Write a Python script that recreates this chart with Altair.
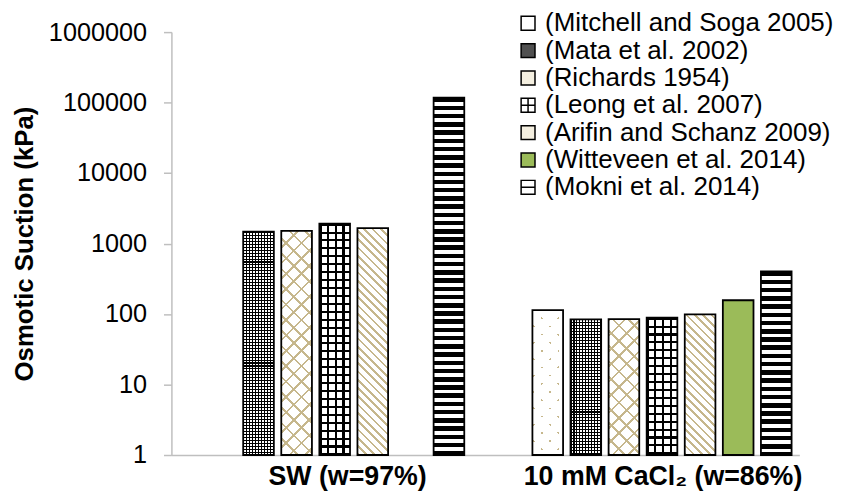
import json
import math
import altair as alt
import pandas as pd

# ---------------- data ----------------
groups = ["SW (w=97%)", "10 mM CaCl₂ (w=86%)"]
series = [
    "(Mitchell and Soga 2005)",
    "(Mata et al. 2002)",
    "(Richards 1954)",
    "(Leong et al. 2007)",
    "(Arifin and Schanz 2009)",
    "(Witteveen et al. 2014)",
    "(Mokni et al. 2014)",
]
sw_values = [None, 1470, 1510, 1920, 1650, None, 118000]
cacl2_values = [114, 84, 85, 89, 99, 157, 402]
y_ticks = [1, 10, 100, 1000, 10000, 100000, 1000000]

rows = []
for g, vals in zip(groups, [sw_values, cacl2_values]):
    for s, v in zip(series, vals):
        if v is not None:
            rows.append({"group": g, "series": s, "value": v})
df = pd.DataFrame(rows)

# ---------------- layout / style ----------------
FONT = "Liberation Sans"
W_PLOT, H_PLOT = 634, 427
PI_G, PO_G, ALIGN_G = 0.2082, 0.0633, 0.813
PI_S = 0.195
TAN = "#c6b78c"
CLEAR = "rgba(255,255,255,0)"

group_step = W_PLOT / (2 - PI_G + 2 * PO_G)
group_band = group_step * (1 - PI_G)
ser_step = group_band / (7 - PI_S)
BAR_W = ser_step * (1 - PI_S)
PX_DEC = H_PLOT / 6.0

base_colors = ["#ffffff", "#ffffff", "#ffffff", "#ffffff", "#ffffff", "#9bbb59", "#ffffff"]
legend_colors = ["#ffffff", "#505050", "#f4efe0", "#ffffff", "#f4efe0", "#9bbb59", "#ffffff"]
SQ = "M-1,-1H1V1H-1Z"
legend_shapes = [SQ, SQ, SQ, SQ + "M0,-1V1M-1,0H1", SQ, SQ, SQ + "M-1,0H1"]

# (kind, period px, on-fraction, on colour, off colour)
patterns = {
    "(Mitchell and Soga 2005)": [("d1", 11.7, 0.15, TAN, CLEAR), ("d2", 11.7, 0.85, "#ffffff", CLEAR)],
    "(Mata et al. 2002)": [("v", 3.0, 0.35, "black", CLEAR), ("h", 3.0, 0.35, "black", CLEAR)],
    "(Richards 1954)": [("d1", 11.0, 0.17, TAN, CLEAR), ("d2", 11.0, 0.17, TAN, CLEAR)],
    "(Leong et al. 2007)": [("v", 7.75, 0.28, "black", CLEAR), ("h", 8.0, 0.26, "black", CLEAR)],
    "(Arifin and Schanz 2009)": [("d2", 5.9, 0.33, TAN, CLEAR)],
    "(Mokni et al. 2014)": [("h", 8.3, 0.55, "black", CLEAR)],
}


def make_stops(n, frac, on, off):
    st = []
    k = 0
    while True:
        a = k / n
        if a >= 1:
            break
        b = min(a + frac / n, 1.0)
        a = round(a, 5)
        b = round(b, 5)
        st += [
            alt.GradientStop(offset=a, color=off),
            alt.GradientStop(offset=a, color=on),
            alt.GradientStop(offset=b, color=on),
            alt.GradientStop(offset=b, color=off),
        ]
        k += 1
    return st


def make_gradient(kind, period, frac, on, off, w, h):
    if kind == "v":
        n = w / period
        return alt.LinearGradient(gradient="linear", x1=0, y1=0, x2=1, y2=0,
                                  stops=make_stops(n, frac, on, off))
    if kind == "h":
        n = h / period
        return alt.LinearGradient(gradient="linear", x1=0, y1=0, x2=0, y2=1,
                                  stops=make_stops(n, frac, on, off))
    lam = (w + h) / (w * w + h * h)
    n = (w + h) / (period * math.sqrt(2))
    if kind == "d1":
        return alt.LinearGradient(gradient="linear", x1=0, y1=0, x2=lam * w, y2=lam * h,
                                  stops=make_stops(n, frac, on, off))
    return alt.LinearGradient(gradient="linear", x1=0, y1=1, x2=lam * w, y2=1 - lam * h,
                              stops=make_stops(n, frac, on, off))


x_enc = alt.X(
    "group:N",
    scale=alt.Scale(domain=groups, paddingInner=PI_G, paddingOuter=PO_G, align=ALIGN_G),
    axis=alt.Axis(
        title=None, labelAngle=0, ticks=False, labelPadding=9,
        labelFont=FONT, labelFontSize=27, labelFontWeight="bold", labelColor="black",
        domainColor="#bfbfbf", domainWidth=1.5, labelLimit=400,
        labelOffset={"condition": {"test": "datum.value == 'SW (w=97%)'", "value": 13}, "value": 1},
    ),
)
xo_enc = alt.XOffset("series:N", scale=alt.Scale(domain=series, paddingInner=PI_S, paddingOuter=0))
y_scale = alt.Scale(type="log", domain=[1, 1000000])
y_enc = alt.Y(
    "value:Q",
    scale=y_scale,
    title="Osmotic Suction (kPa)",
    axis=alt.Axis(
        values=y_ticks, format="d", grid=False,
        labelFont=FONT, labelFontSize=25.5, labelColor="black", labelPadding=17,
        tickSize=8, tickColor="#bfbfbf", tickWidth=1.5,
        domainColor="#bfbfbf", domainWidth=1.5,
        titleFont=FONT, titleFontSize=26, titleFontWeight="bold", titleColor="black",
        titlePadding=11,
    ),
)
y2_enc = alt.Y2(datum=1)

base = alt.Chart(df)

legend_layer = base.transform_calculate(mid="sqrt(datum.value)").mark_point(
    filled=False, size=16, opacity=1, stroke="black", strokeWidth=1.5
).encode(
    x=x_enc, xOffset=xo_enc,
    y=alt.Y("mid:Q", scale=y_scale, title="Osmotic Suction (kPa)"),
    fill=alt.Fill(
        "series:N",
        scale=alt.Scale(domain=series, range=legend_colors),
        legend=alt.Legend(
            title=None, orient="none", legendX=347, legendY=-22,
            labelFont=FONT, labelFontSize=26.2, labelColor="black", labelLimit=400,
            labelOffset=4, rowPadding=0.6, padding=0, offset=0,
            symbolSize=196, symbolStrokeWidth=1.5, symbolOpacity=1,
        ),
    ),
    shape=alt.Shape("series:N", scale=alt.Scale(domain=series, range=legend_shapes)),
)

base_bars = base.mark_bar().encode(
    x=x_enc, xOffset=xo_enc, y=y_enc, y2=y2_enc,
    color=alt.Color("series:N", scale=alt.Scale(domain=series, range=base_colors), legend=None),
)

layers = [legend_layer, base_bars]

for row in rows:
    s = row["series"]
    if s not in patterns:
        continue
    h = math.log10(row["value"]) * PX_DEC
    test = "datum.series === %s && datum.group === %s" % (json.dumps(s), json.dumps(row["group"]))
    for kind, period, frac, on, off in patterns[s]:
        grad = make_gradient(kind, period, frac, on, off, BAR_W, h)
        layers.append(
            base.transform_filter(test).mark_bar(fill=grad).encode(
                x=x_enc, xOffset=xo_enc, y=y_enc, y2=y2_enc
            )
        )

outline = base.mark_bar(fillOpacity=0, stroke="black", strokeWidth=1.8).encode(
    x=x_enc, xOffset=xo_enc, y=y_enc, y2=y2_enc
)
layers.append(outline)

chart = alt.layer(*layers).properties(
    width=W_PLOT, height=H_PLOT,
    padding={"left": 165, "top": 22, "right": 35, "bottom": 34},
    autosize=alt.AutoSizeParams(type="none"),
    background="white",
).configure_view(stroke="transparent")

chart.save("out.html", embed_options={"renderer": "svg", "actions": False})
